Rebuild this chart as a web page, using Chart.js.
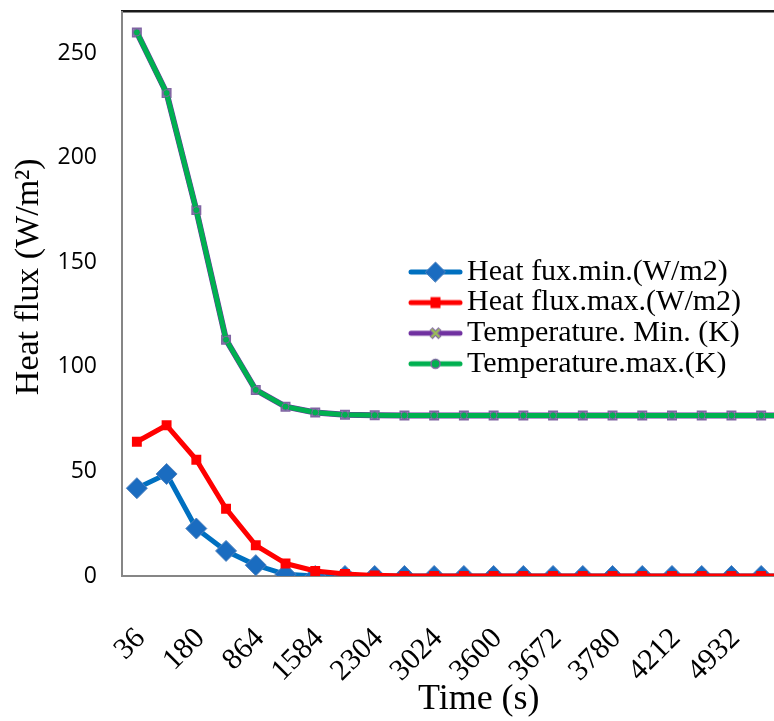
<!DOCTYPE html>
<html><head><meta charset="utf-8">
<script src="https://cdn.jsdelivr.net/npm/chart.js@4.4.1/dist/chart.umd.min.js"></script>
<style>
html,body{margin:0;padding:0;overflow:hidden;background:#fff;width:774px;height:721px;}
#wrap{position:absolute;left:0;top:0;width:847px;height:721px;}
</style></head><body>
<div id="wrap"><canvas id="c" width="847" height="721"></canvas></div>
<script>
// Time categories (odd-position labels are not shown in the reference, left blank)
const timeLabels = ['36','','180','','864','','1584','','2304','','3024','','3600','','3672','','3780','','4212','','4932','','',''];
const heatFluxMin = [42, 48.8, 22.7, 12.0, 5.2, 0.8, 0, 0, 0, 0, 0, 0, 0, 0, 0, 0, 0, 0, 0, 0, 0, 0, 0, 0];
const heatFluxMax = [64.2, 72.1, 55.6, 32.2, 14.7, 6.0, 2.4, 1.0, 0.3, 0, 0, 0, 0, 0, 0, 0, 0, 0, 0, 0, 0, 0, 0, 0];
const tempMin = [260, 231, 175, 113, 89, 81, 78.2, 77.1, 76.9, 76.8, 76.8, 76.8, 76.8, 76.8, 76.8, 76.8, 76.8, 76.8, 76.8, 76.8, 76.8, 76.8, 76.8, 76.8];
const tempMax = [260, 231, 175, 113, 89, 81, 78.2, 77.1, 76.9, 76.8, 76.8, 76.8, 76.8, 76.8, 76.8, 76.8, 76.8, 76.8, 76.8, 76.8, 76.8, 76.8, 76.8, 76.8];
const seriesNames = ['Heat fux.min.(W/m2)', 'Heat flux.max.(W/m2)', 'Temperature. Min. (K)', 'Temperature.max.(K)'];
const yTickStep = 50;

const SERIF = "'Liberation Serif', 'Times New Roman', serif";
const SANS = "'Open Sans', 'Liberation Sans', sans-serif";

function makeIcon(kind) {
  const c = document.createElement('canvas');
  c.width = 55; c.height = 24;
  const g = c.getContext('2d');
  const cy = 12, cx = 27.5;
  const lineColors = {min:'#0070C0', max:'#FF0000', tmin:'#7030A0', tmax:'#00B050'};
  g.lineCap = 'round';
  g.strokeStyle = lineColors[kind]; g.lineWidth = 5;
  g.beginPath(); g.moveTo(3, cy); g.lineTo(52, cy); g.stroke();
  if (kind === 'min') {
    g.beginPath(); g.moveTo(cx - 10, cy); g.lineTo(cx, cy - 10); g.lineTo(cx + 10, cy); g.lineTo(cx, cy + 10); g.closePath();
    g.fillStyle = '#1A6CC0'; g.fill(); g.strokeStyle = '#4F81BD'; g.lineWidth = 1; g.stroke();
  } else if (kind === 'max') {
    g.fillStyle = '#FF0000'; g.fillRect(cx - 5, cy - 5.5, 10, 11);
  } else if (kind === 'tmin') {
    g.lineCap = 'butt';
    g.strokeStyle = '#8064A2'; g.lineWidth = 4.5;
    g.beginPath(); g.moveTo(cx - 4.5, cy - 4.5); g.lineTo(cx + 4.5, cy + 4.5); g.moveTo(cx + 4.5, cy - 4.5); g.lineTo(cx - 4.5, cy + 4.5); g.stroke();
    g.strokeStyle = '#9BBB59'; g.lineWidth = 2.2;
    g.beginPath(); g.moveTo(cx - 4, cy - 4); g.lineTo(cx + 4, cy + 4); g.moveTo(cx + 4, cy - 4); g.lineTo(cx - 4, cy + 4); g.stroke();
  } else {
    g.beginPath(); g.arc(cx, cy, 4.5, 0, Math.PI * 2);
    g.fillStyle = '#00B050'; g.fill(); g.strokeStyle = '#8064A2'; g.lineWidth = 1.5; g.stroke();
  }
  return c;
}
const legendIcons = [makeIcon('min'), makeIcon('max'), makeIcon('tmin'), makeIcon('tmax')];

const LEGEND_LEFT = 418.4, LEGEND_TOP = 256.4;
const legendPlacer = {
  id: 'legendPlacer',
  afterLayout(chart) {
    const lg = chart.legend;
    if (!lg) return;
    const w = lg.width, h = lg.height;
    lg.left = LEGEND_LEFT; lg.top = LEGEND_TOP;
    lg.right = lg.left + w; lg.bottom = lg.top + h;
    if (typeof lg._draw === 'function' && !lg.__noClip) {
      lg.__noClip = true;
      lg.draw = function () { if (this.options.display) this._draw(); };
    }
  }
};

new Chart(document.getElementById('c'), {
  type: 'line',
  data: {
    labels: timeLabels,
    datasets: [
      {label: seriesNames[0], data: heatFluxMin, borderColor: '#0070C0', backgroundColor: '#1A6CC0', borderWidth: 5,
       pointStyle: 'rectRot', pointRadius: 10.5, pointBackgroundColor: '#1A6CC0', pointBorderColor: '#4F81BD', pointBorderWidth: 1, order: 4},
      {label: seriesNames[1], data: heatFluxMax, borderColor: '#FF0000', backgroundColor: '#FF0000', borderWidth: 5,
       pointStyle: 'rect', pointRadius: 7, pointBackgroundColor: '#FF0000', pointBorderColor: '#FF0000', pointBorderWidth: 0, order: 3},
      {label: seriesNames[2], data: tempMin, borderColor: '#7030A0', backgroundColor: '#A08CC4', borderWidth: 6,
       pointStyle: 'rect', pointRadius: 6, pointBackgroundColor: '#A08CC4', pointBorderColor: '#8064A2', pointBorderWidth: 1.5, order: 2},
      {label: seriesNames[3], data: tempMax, borderColor: '#00B050', backgroundColor: '#00B050', borderWidth: 5,
       pointStyle: 'circle', pointRadius: 3.5, pointBackgroundColor: '#00B050', pointBorderColor: '#7F63A1', pointBorderWidth: 1, order: 1}
    ]
  },
  options: {
    responsive: false,
    animation: false,
    devicePixelRatio: 1,
    events: [],
    elements: {line: {tension: 0, borderJoinStyle: 'round', borderCapStyle: 'round'}},
    layout: {padding: {top: 8, left: 0, right: 0, bottom: 0}},
    plugins: {
      tooltip: {enabled: false},
      legend: {
        position: 'chartArea',
        align: 'start',
        labels: {
          usePointStyle: true,
          pointStyleWidth: 33,
          padding: 0.6,
          color: '#000',
          font: {family: SERIF, size: 30},
          sort: (a, b) => a.datasetIndex - b.datasetIndex,
          generateLabels(chart) {
            const items = Chart.defaults.plugins.legend.labels.generateLabels(chart);
            items.forEach(it => { it.pointStyle = legendIcons[it.datasetIndex]; });
            return items;
          }
        }
      }
    },
    scales: {
      x: {
        type: 'category', offset: true,
        grid: {display: false, drawTicks: false},
        border: {display: true, color: '#868686', width: 2},
        ticks: {autoSkip: false, maxRotation: 45, minRotation: 45, padding: 45, labelOffset: 4, color: '#000', font: {family: SERIF, size: 30}},
        title: {display: true, text: 'Time (s)', color: '#000', font: {family: SERIF, size: 36}, padding: {top: 0, bottom: 0}},
        afterFit(s) { s.height = 145; s.paddingLeft = 0; s.paddingRight = 0; }
      },
      x2: {
        type: 'category', position: 'top', offset: true,
        grid: {display: false, drawTicks: false},
        border: {display: true, color: '#1a1a1a', width: 2.5},
        ticks: {display: false},
        afterFit(s) { s.height = 0; s.paddingLeft = 0; s.paddingRight = 0; }
      },
      y: {
        min: 0, max: 270,
        grid: {display: false, drawTicks: false},
        border: {display: true, color: '#868686', width: 2},
        ticks: {stepSize: yTickStep, padding: 25, color: '#000', font: {family: SANS, size: 23}},
        afterBuildTicks(s) { s.ticks = s.ticks.filter(t => t.value % yTickStep === 0); },
        title: {display: true, text: '\u00A0\u00A0\u00A0\u00A0Heat flux (W/m\u00B2)', color: '#000', font: {family: SERIF, size: 34}, padding: {top: 9, bottom: 0}},
        afterFit(s) { s.width = 122; s.paddingTop = 0; s.paddingBottom = 0; }
      }
    }
  },
  plugins: [legendPlacer]
});
</script>
</body></html>
